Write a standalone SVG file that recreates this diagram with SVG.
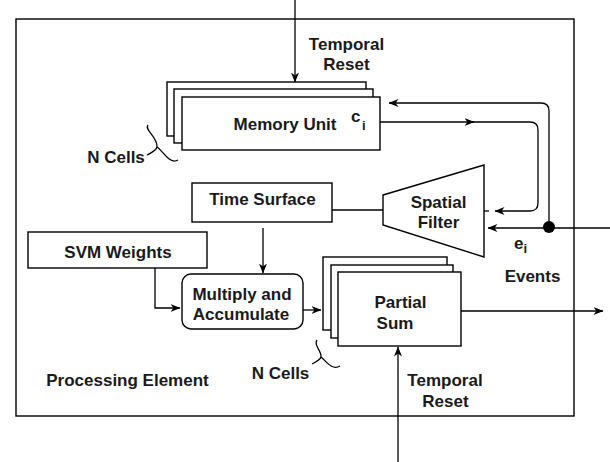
<svg xmlns="http://www.w3.org/2000/svg" width="610" height="462" viewBox="0 0 610 462">
  <style>
    .box { fill: #fff; stroke: #000; stroke-width: 1.4; }
    .ln { fill: none; stroke: #000; stroke-width: 1.3; }
    .lbl { font-family: "Liberation Sans", Arial, sans-serif; font-weight: bold; font-size: 17px; fill: #1a1a1a; }
    .sub { font-family: "Liberation Sans", Arial, sans-serif; font-weight: bold; font-size: 13px; fill: #1a1a1a; }
    .mid { text-anchor: middle; }
  </style>
  <defs>
    <marker id="arrow" viewBox="0 0 10 8" refX="9.5" refY="4" markerWidth="10" markerHeight="8" markerUnits="userSpaceOnUse" orient="auto">
      <path d="M0,0 L10,4 L0,8 L3,4 z" fill="#000"/>
    </marker>
  </defs>

  <rect width="610" height="462" fill="#fff"/>

  <!-- processing element frame -->
  <g id="processing-element">
    <rect class="box" x="16" y="19" width="558" height="397" fill="none"/>
    <text class="lbl mid" x="127.5" y="386">Processing Element</text>
  </g>

  <!-- memory unit, stacked cells -->
  <g id="memory-unit">
    <rect class="box" x="167" y="82" width="199" height="54"/>
    <rect class="box" x="174" y="89" width="199" height="54"/>
    <rect class="box" x="182" y="97" width="198" height="53"/>
    <text class="lbl mid" x="285" y="130">Memory Unit</text>
    <text class="lbl" x="351" y="122">c</text>
    <text class="sub" x="362" y="130">i</text>
  </g>

  <g id="n-cells-top">
    <path class="ln" d="M148,125 C144,130 158,137 157,147 C156,151 151,153 147,155 M157,147 C163,151 170,165 178,160"/>
    <text class="lbl mid" x="116" y="163">N Cells</text>
  </g>

  <g id="time-surface">
    <rect class="box" x="192" y="183" width="140" height="39"/>
    <text class="lbl mid" x="262.5" y="205">Time Surface</text>
  </g>

  <g id="spatial-filter">
    <path class="box" d="M383,195 L484,165 L484,257 L383,225 Z"/>
    <text class="lbl mid" x="438.5" y="208">Spatial</text>
    <text class="lbl mid" x="438.5" y="228">Filter</text>
  </g>

  <g id="svm-weights">
    <rect class="box" x="28" y="232" width="179" height="36"/>
    <text class="lbl mid" x="118" y="258">SVM Weights</text>
  </g>

  <g id="multiply-accumulate">
    <rect class="box" x="182" y="274" width="121" height="55" rx="9" ry="9"/>
    <text class="lbl mid" x="242" y="300">Multiply and</text>
    <text class="lbl mid" x="241" y="320">Accumulate</text>
  </g>

  <!-- partial sum, stacked cells -->
  <g id="partial-sum">
    <rect class="box" x="323" y="257" width="124" height="73"/>
    <rect class="box" x="331" y="265" width="122" height="73"/>
    <rect class="box" x="338" y="272" width="123" height="74"/>
    <text class="lbl mid" x="400.5" y="308">Partial</text>
    <text class="lbl mid" x="395" y="329">Sum</text>
  </g>

  <g id="n-cells-bottom">
    <path class="ln" d="M317,340 C313,345 322,351 321,357 C320,360 316,362 312,364 M321,357 C326,361 332,371 340,366"/>
    <text class="lbl mid" x="280.5" y="379">N Cells</text>
  </g>

  <g id="labels">
    <text class="lbl mid" x="346.5" y="50">Temporal</text>
    <text class="lbl mid" x="346.5" y="70">Reset</text>
    <text class="lbl mid" x="445" y="386">Temporal</text>
    <text class="lbl mid" x="445.5" y="407">Reset</text>
    <text class="lbl" x="514" y="249">e</text>
    <text class="sub" x="523.5" y="253">i</text>
    <text class="lbl mid" x="532.5" y="282">Events</text>
  </g>

  <g id="connectors">
    <!-- temporal reset into memory unit -->
    <path class="ln" d="M295,0 L295,82" marker-end="url(#arrow)"/>
    <!-- event feedback into memory unit -->
    <path class="ln" d="M549,227 L549,111 Q549,103 541,103 L389,103" marker-end="url(#arrow)"/>
    <!-- memory unit out to spatial filter -->
    <path class="ln" d="M380,122 L474,122" marker-end="url(#arrow)"/>
    <path class="ln" d="M470,122 L530,122 Q538,122 538,130 L538,203 Q538,211 530,211 L495,211" marker-end="url(#arrow)"/>
    <path class="ln" d="M484,211 L489,211"/>
    <!-- events input -->
    <path class="ln" d="M610,228 L488,228" marker-end="url(#arrow)"/>
    <circle cx="549" cy="227" r="6" fill="#000"/>
    <!-- time surface links -->
    <path class="ln" d="M332,210 L383,210"/>
    <path class="ln" d="M263,228 L263,273" marker-end="url(#arrow)"/>
    <!-- svm weights into MAC -->
    <path class="ln" d="M155,268 L155,308 L180,308" marker-end="url(#arrow)"/>
    <!-- MAC into partial sum -->
    <path class="ln" d="M303,310 L321,310" marker-end="url(#arrow)"/>
    <!-- partial sum output -->
    <path class="ln" d="M461,311 L603,311" marker-end="url(#arrow)"/>
    <!-- temporal reset into partial sum -->
    <path class="ln" d="M398,462 L398,347" marker-end="url(#arrow)"/>
  </g>
</svg>
